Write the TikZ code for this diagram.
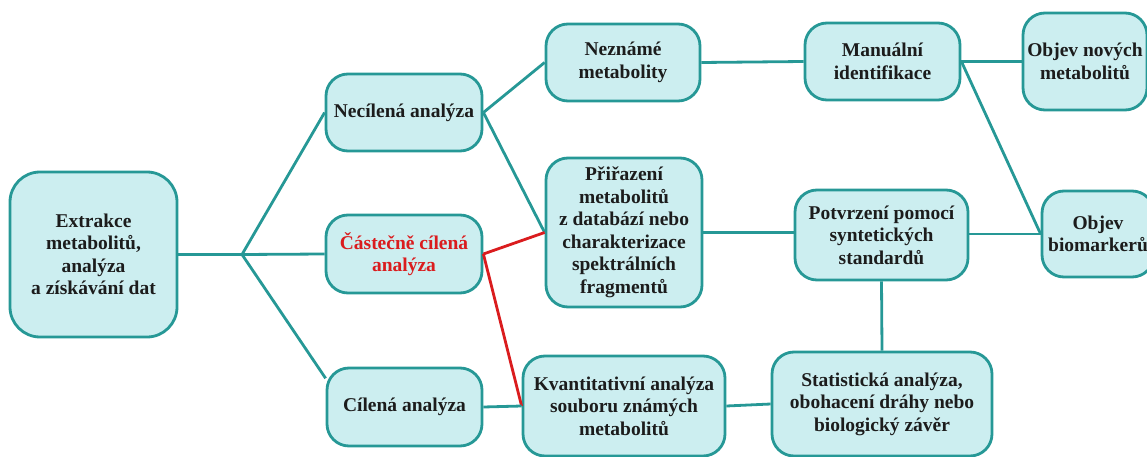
\documentclass[tikz,border=0pt]{standalone}
\usepackage{fontspec}
\setmainfont{Liberation Serif}[BoldFont={Liberation Serif Bold}]
\newfontfamily\boxfont{Liberation Serif Bold}
\definecolor{boxfill}{RGB}{204,238,240}
\definecolor{teal1}{RGB}{38,152,150}
\definecolor{redl}{RGB}{218,28,30}
\definecolor{txt}{RGB}{28,28,28}
\tikzset{
  bx/.style={draw=teal1, line width=2.8pt, fill=boxfill, rounded corners=22pt,
    inner sep=0pt, align=center, text=txt,
    font=\boxfont\fontsize{19.5}{22.5}\selectfont},
  con/.style={draw=teal1, line width=2.8pt},
  rcon/.style={draw=redl, line width=2.8pt},
}
\begin{document}
\begin{tikzpicture}[x=1pt,y=-1pt]
\useasboundingbox (0,0) rectangle (1147,457);
\node[bx, minimum width=167pt, minimum height=165pt, rounded corners=30pt] (ext) at (93.5,254.5) {Extrakce\\metabolitů,\\analýza\\a získávání dat};
\node[bx, minimum width=156pt, minimum height=77pt] (nec) at (404,112.5) {Necílená analýza};
\node[bx, minimum width=156pt, minimum height=78pt, text=redl] (cas) at (404,254) {Částečně cílená\\analýza};
\node[bx, minimum width=155pt, minimum height=78pt] (cil) at (404.5,407) {Cílená analýza};
\node[bx, minimum width=154pt, minimum height=77pt] (nez) at (623,62.5) {Neznámé\\metabolity};
\node[bx, minimum width=156pt, minimum height=149pt] (pri) at (624,232.5) {Přiřazení\\metabolitů\\z databází nebo\\charakterizace\\spektrálních\\fragmentů};
\node[bx, minimum width=202pt, minimum height=100pt] (kva) at (624,406) {Kvantitativní analýza\\souboru známých\\metabolitů};
\node[bx, minimum width=155pt, minimum height=77pt] (man) at (882.5,61.5) {Manuální\\identifikace};
\node[bx, minimum width=173pt, minimum height=90pt] (pot) at (881.5,235) {Potvrzení pomocí\\syntetických\\standardů};
\node[bx, minimum width=220pt, minimum height=104pt] (sta) at (882,404) {Statistická analýza,\\obohacení dráhy nebo\\biologický závěr};
\node[bx, minimum width=124pt, minimum height=97pt] (onm) at (1085,61.5) {Objev nových\\metabolitů};
\node[bx, minimum width=112pt, minimum height=86pt] (obi) at (1098,234) {Objev\\biomarkerů};
\coordinate (br) at (242,254.5);
\draw[con] (ext.east) -- (br);
\draw[con] (br) -- (nec.west);
\draw[con] (br) -- (cas.west);
\draw[con] (br) -- (cil.160);
\draw[con] (nec.east) -- (nez.west);
\draw[con] (nec.east) -- (pri.west);
\draw[rcon] (cas.east) -- (pri.west);
\draw[rcon] (cas.east) -- (kva.west);
\draw[con] (cil.east) -- (kva.west);
\draw[con] (nez.east) -- (man.west);
\draw[con] (pri.east) -- (pri.east -| pot.west);
\draw[con] (man.east) -- (onm.west);
\draw[con] (man.east) -- (obi.west);
\draw[con] (pot.east |- obi.west) -- (obi.west);
\draw[con] (pot.south) -- (sta.north);
\draw[con] (kva.east) -- (sta.west);
\end{tikzpicture}
\end{document}
